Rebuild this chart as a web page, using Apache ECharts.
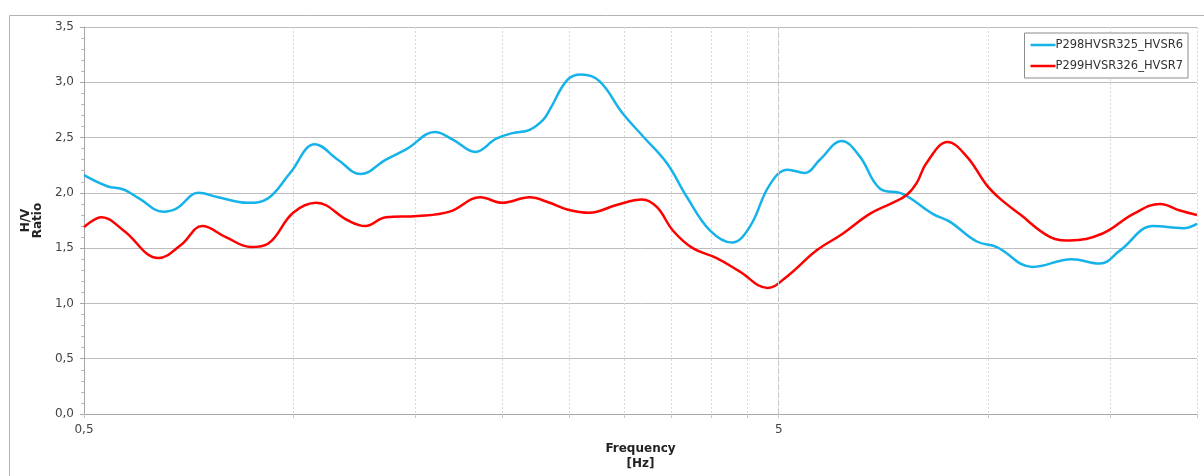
<!DOCTYPE html>
<html>
<head>
<meta charset="utf-8">
<script src="https://cdn.jsdelivr.net/npm/echarts@6/dist/echarts.min.js"></script>
<style>
  html, body { margin: 0; padding: 0; background: #fff; }
  #chart { width: 1204px; height: 476px; }
</style>
</head>
<body>
<div id="chart"></div>
<script>
// values
const freqBlue = [0.5, 0.54, 0.57, 0.60, 0.65, 0.68, 0.73, 0.78, 0.86, 0.92, 0.99, 1.075, 1.16, 1.25, 1.36, 1.46, 1.60, 1.70, 1.83, 1.96, 2.07, 2.19, 2.29, 2.34, 2.48, 2.60, 2.76, 2.98, 3.19, 3.45, 3.69, 3.98, 4.28, 4.54, 4.85, 5.15, 5.45, 5.73, 6.16, 6.54, 6.99, 7.54, 8.33, 8.81, 9.64, 10.3, 11.6, 13.2, 14.5, 15.5, 17.3, 19.1, 20.0];
const hvBlue = [2.16, 2.06, 2.03, 1.95, 1.83, 1.86, 2.00, 1.96, 1.91, 1.95, 2.18, 2.44, 2.30, 2.17, 2.30, 2.40, 2.55, 2.48, 2.37, 2.49, 2.54, 2.57, 2.66, 2.75, 3.02, 3.07, 3.01, 2.72, 2.51, 2.27, 1.96, 1.66, 1.55, 1.69, 2.07, 2.21, 2.18, 2.30, 2.47, 2.33, 2.04, 1.99, 1.81, 1.74, 1.56, 1.51, 1.33, 1.40, 1.36, 1.48, 1.70, 1.68, 1.72];

const freqRed = [0.5, 0.53, 0.57, 0.64, 0.69, 0.74, 0.80, 0.87, 0.92, 1.00, 1.08, 1.20, 1.27, 1.36, 1.51, 1.68, 1.86, 2.00, 2.19, 2.34, 2.48, 2.67, 2.92, 3.18, 3.34, 3.52, 3.76, 4.07, 4.39, 4.82, 5.13, 5.67, 6.18, 6.76, 7.29, 7.64, 7.90, 8.16, 8.75, 9.32, 9.96, 10.4, 11.1, 12.3, 13.1, 14.6, 16.2, 17.7, 18.9, 20.0];
const hvRed = [1.69, 1.78, 1.66, 1.41, 1.53, 1.70, 1.60, 1.51, 1.54, 1.82, 1.91, 1.75, 1.70, 1.78, 1.79, 1.83, 1.96, 1.91, 1.96, 1.91, 1.85, 1.82, 1.89, 1.94, 1.87, 1.66, 1.50, 1.41, 1.29, 1.14, 1.24, 1.48, 1.63, 1.81, 1.91, 1.98, 2.09, 2.27, 2.46, 2.33, 2.07, 1.95, 1.81, 1.60, 1.57, 1.63, 1.81, 1.90, 1.84, 1.80];

const gridFreqs = [0.5, 1, 1.5, 2, 2.5, 3, 3.5, 4, 4.5, 5, 10, 15, 20];
const labelFreqs = [0.5, 5];
const dashedFreqs = [5];

const font = 'DejaVu Sans';
const axisGrey = '#a6a6a6';

const chart = echarts.init(document.getElementById('chart'));

chart.setOption({
  backgroundColor: '#fff',
  animation: false,
  textStyle: { fontFamily: font },
  graphic: [{
    type: 'rect',
    left: 7, top: 13,
    shape: { width: 1260, height: 520 },
    style: { fill: 'none', stroke: '#b4b4b4', lineWidth: 1 },
    silent: true
  }],
  grid: { left: 84, right: 7, top: 27, bottom: 62 },
  legend: {
    data: ['P298HVSR325_HVSR6', 'P299HVSR326_HVSR7'],
    orient: 'vertical',
    right: 16,
    top: 33,
    icon: 'rect',
    itemWidth: 25,
    itemHeight: 2.5,
    itemGap: 9,
    itemStyle: { borderWidth: 0 },
    padding: [6, 5, 6, 6],
    backgroundColor: '#fff',
    borderColor: '#8c8c8c',
    borderWidth: 1,
    textStyle: { fontFamily: font, fontSize: 11.5, color: '#333', padding: [0, 0, 0, -5] }
  },
  xAxis: {
    type: 'log',
    logBase: 10,
    min: 0.5,
    max: 20,
    name: 'Frequency\n[Hz]',
    nameLocation: 'middle',
    nameGap: 27,
    nameTextStyle: { fontFamily: font, fontWeight: 'bold', fontSize: 12, color: '#222', lineHeight: 15 },
    axisLine: { lineStyle: { color: axisGrey } },
    axisTick: { show: true, length: 4, customValues: gridFreqs, lineStyle: { color: '#c8c8c8' } },
    axisLabel: {
      customValues: labelFreqs,
      margin: 10,
      fontSize: 12,
      color: '#444',
      formatter: v => String(v).replace('.', ',')
    },
    splitLine: { show: true, lineStyle: { color: '#dadada', type: [2, 2] } },
    minorTick: { show: false },
    minorSplitLine: { show: false }
  },
  yAxis: {
    type: 'value',
    min: 0,
    max: 3.5,
    interval: 0.5,
    name: 'H/V\nRatio',
    nameLocation: 'middle',
    nameRotate: 90,
    nameGap: 31,
    nameTextStyle: { fontFamily: font, fontWeight: 'bold', fontSize: 12, color: '#222', lineHeight: 12 },
    axisLine: { show: true, lineStyle: { color: axisGrey } },
    axisTick: { show: true, length: 4, lineStyle: { color: axisGrey } },
    minorTick: { show: true, splitNumber: 5, length: 3, lineStyle: { color: '#b8b8b8' } },
    axisLabel: {
      margin: 10,
      fontSize: 12,
      color: '#444',
      formatter: v => v.toFixed(1).replace('.', ',')
    },
    splitLine: { show: true, lineStyle: { color: '#bdbdbd', width: 1 } }
  },
  series: [
    {
      name: 'grid5',
      type: 'line',
      data: [],
      z: 1,
      silent: true,
      markLine: {
        silent: true,
        symbol: 'none',
        label: { show: false },
        lineStyle: { color: '#c4c4c4', type: [5, 3], width: 1 },
        data: dashedFreqs.map(f => ({ xAxis: f }))
      }
    },
    {
      name: 'P298HVSR325_HVSR6',
      type: 'line',
      smooth: 0.4,
      showSymbol: false,
      z: 3,
      lineStyle: { color: '#16b2ea', width: 2.5 },
      itemStyle: { color: '#16b2ea' },
      data: freqBlue.map((f, i) => [f, hvBlue[i]])
    },
    {
      name: 'P299HVSR326_HVSR7',
      type: 'line',
      smooth: 0.4,
      showSymbol: false,
      z: 4,
      lineStyle: { color: '#ff0000', width: 2.5 },
      itemStyle: { color: '#ff0000' },
      data: freqRed.map((f, i) => [f, hvRed[i]])
    }
  ]
});
</script>
</body>
</html>
